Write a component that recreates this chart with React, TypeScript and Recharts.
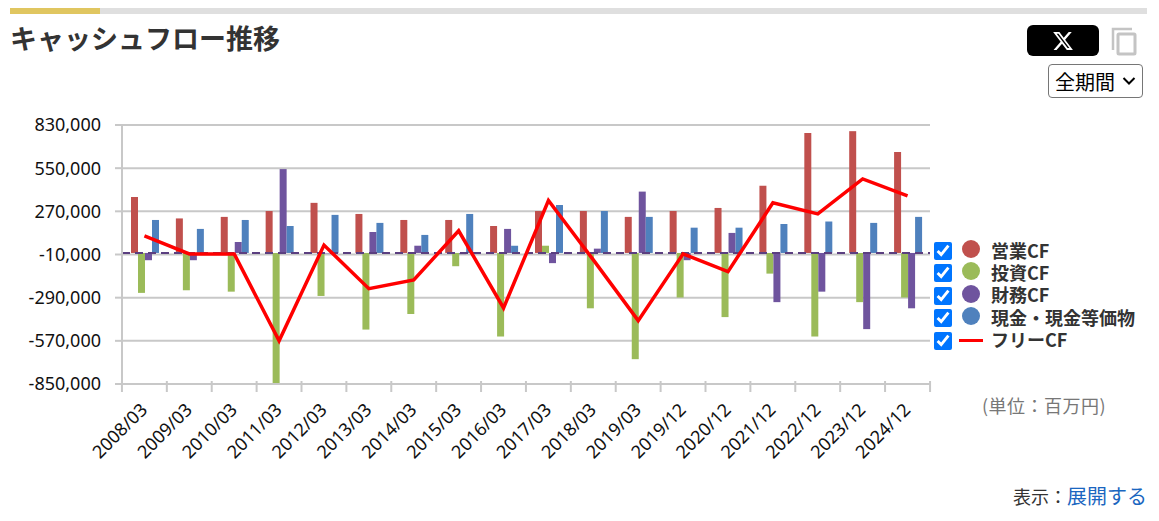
import { Bar, CartesianGrid, ComposedChart, Line, ReferenceLine, XAxis, YAxis } from 'recharts';

const periods = [
  '2008/03', '2009/03', '2010/03', '2011/03', '2012/03', '2013/03', '2014/03', '2015/03', '2016/03',
  '2017/03', '2018/03', '2019/03', '2019/12', '2020/12', '2021/12', '2022/12', '2023/12', '2024/12',
];
const operatingCf = [
  363000, 224000, 234000, 272000, 325000, 253000, 214000, 214000, 175000,
  272000, 272000, 234000, 272000, 292000, 436000, 778000, 790000, 655000,
];
const investingCf = [
  -259000, -242000, -251000, -850000, -279000, -497000, -396000, -86000, -542000,
  47000, -359000, -689000, -289000, -416000, -134000, -542000, -319000, -289000,
];
const financingCf = [
  -47000, -47000, 71000, 544000, -3000, 136000, 47000, -8000, 156000,
  -66000, 28000, 398000, -47000, 130000, -319000, -251000, -494000, -359000,
];
const cashEquivalents = [
  214000, 156000, 214000, 175000, 247000, 195000, 117000, 253000, 47000,
  311000, 272000, 234000, 164000, 164000, 188000, 204000, 195000, 234000,
];
const freeCf = [
  111000, -6000, -6000, -570000, 51000, -232000, -175000, 144000, -357000,
  340000, -45000, -439000, -6000, -121000, 325000, 253000, 480000, 370000,
];
const yTicks = [830000, 550000, 270000, -10000, -290000, -570000, -850000];

const legendItems = [
  { name: '営業CF', color: '#c0504d' },
  { name: '投資CF', color: '#9bbb59' },
  { name: '財務CF', color: '#6f549e' },
  { name: '現金・現金等価物', color: '#4f81bd' },
  { name: 'フリーCF', color: '#ff0000' },
];

const rows = periods.map((period, i) => ({
  period,
  operating: operatingCf[i],
  investing: investingCf[i],
  financing: financingCf[i],
  cash: cashEquivalents[i],
  free: freeCf[i],
}));

const FONT = '"Noto Sans", "Noto Sans CJK JP", sans-serif';
const CJK = '"Noto Sans CJK JP", sans-serif';
const AXIS = '#c8c8c8';
const BAND = 45;

function PeriodTick({ x, y, payload, index }: any) {
  return (
    <g>
      <line x1={x - BAND / 2} x2={x - BAND / 2} y1={y - 11} y2={y} stroke={AXIS} strokeWidth={2} />
      {index === periods.length - 1 && (
        <line x1={x + BAND / 2} x2={x + BAND / 2} y1={y - 11} y2={y} stroke={AXIS} strokeWidth={2} />
      )}
      <text
        x={x + 4}
        y={y + 19}
        textAnchor="end"
        fontSize={18}
        fontFamily={FONT}
        fill="#111"
        transform={`rotate(-45 ${x + 4} ${y + 19})`}
      >
        {payload.value}
      </text>
    </g>
  );
}

export default function App() {
  return (
    <div style={{ position: 'absolute', left: 0, top: 0, width: 1159, height: 521, fontFamily: FONT, background: '#fff', overflow: 'hidden' }}>
      <div style={{ position: 'absolute', left: 10, top: 8, width: 1137, height: 6, background: '#dfdfdf' }} />
      <div style={{ position: 'absolute', left: 10, top: 8, width: 90, height: 6, background: '#e0c660' }} />
      <div style={{ position: 'absolute', left: 10, top: 19, fontSize: 27, lineHeight: '38px', fontWeight: 700, color: '#333', fontFamily: CJK }}>
        キャッシュフロー推移
      </div>

      <div style={{ position: 'absolute', left: 1027, top: 25, width: 72, height: 31, background: '#000', borderRadius: 6, display: 'flex', alignItems: 'center', justifyContent: 'center' }}>
        <svg width={22} height={22} viewBox="0 0 24 24">
          <path fill="#fff" d="M18.244 2.25h3.308l-7.227 8.26 8.502 11.24H16.17l-5.214-6.817L4.99 21.75H1.68l7.73-8.835L1.254 2.25H8.08l4.713 6.231zm-1.161 17.52h1.833L7.084 4.126H5.117z" />
        </svg>
      </div>
      <svg style={{ position: 'absolute', left: 1110, top: 26 }} width={28} height={30}>
        <path d="M3 24V3h19" fill="none" stroke="#c4c4c4" strokeWidth={2.5} />
        <rect x={8} y={8} width={17} height={20} fill="none" stroke="#c4c4c4" strokeWidth={3} rx={1} />
      </svg>
      <select
        defaultValue="all"
        style={{ position: 'absolute', left: 1048, top: 64, width: 95, height: 34, fontSize: 20, fontFamily: CJK, background: '#fff', color: '#000', padding: '0 0 0 6px', boxSizing: 'border-box', appearance: 'none', border: '1px solid #767676', borderRadius: 4 }}
      >
        <option value="all">全期間</option>
      </select>
      <svg style={{ position: 'absolute', left: 1122, top: 76, pointerEvents: 'none' }} width={14} height={10}>
        <path d="M1.5 2l5.5 5.5L12.5 2" fill="none" stroke="#000" strokeWidth={2} />
      </svg>

      <ComposedChart width={1159} height={521} data={rows} margin={{ top: 125, right: 229, bottom: 0, left: 0 }} barCategoryGap="20%" barGap={0}>
        <CartesianGrid vertical={false} stroke={AXIS} strokeWidth={2} />
        <XAxis dataKey="period" interval={0} axisLine={{ stroke: AXIS, strokeWidth: 2 }} tickLine={false} tick={<PeriodTick />} height={137} />
        <YAxis
          type="number"
          width={122}
          domain={[-850000, 830000]}
          ticks={yTicks}
          interval={0}
          axisLine={{ stroke: AXIS, strokeWidth: 2 }}
          tickLine={{ stroke: AXIS, strokeWidth: 2 }}
          tickSize={7}
          tickMargin={14}
          tick={{ fontSize: 18, fontFamily: FONT, fill: '#111' }}
          tickFormatter={(value: number) => value.toLocaleString('en-US')}
        />
        <Bar dataKey="operating" name="営業CF" fill="#c0504d" isAnimationActive={false} />
        <Bar dataKey="investing" name="投資CF" fill="#9bbb59" isAnimationActive={false} />
        <Bar dataKey="financing" name="財務CF" fill="#6f549e" isAnimationActive={false} />
        <Bar dataKey="cash" name="現金・現金等価物" fill="#4f81bd" isAnimationActive={false} />
        <ReferenceLine y={0} stroke="#5b3f80" strokeWidth={2} strokeDasharray="8 5" />
        <Line dataKey="free" name="フリーCF" type="linear" stroke="#ff0000" strokeWidth={3.5} dot={false} isAnimationActive={false} />
      </ComposedChart>

      {legendItems.map((item, i) => {
        const cy = 250.5 + i * 22.4;
        return (
          <div key={item.name}>
            <input
              type="checkbox"
              defaultChecked
              style={{ position: 'absolute', left: 934, top: cy - 8.5, width: 18, height: 18, margin: 0 }}
            />
            {i < 4 ? (
              <div style={{ position: 'absolute', left: 962, top: cy - 10.5, width: 18, height: 18, borderRadius: '50%', background: item.color }} />
            ) : (
              <div style={{ position: 'absolute', left: 959, top: cy - 1.5, width: 24, height: 3, background: item.color }} />
            )}
            <div style={{ position: 'absolute', left: 991, top: cy - 11, fontSize: 18, lineHeight: '20px', fontWeight: 700, color: '#333', whiteSpace: 'nowrap', fontFamily: CJK }}>
              {item.name}
            </div>
          </div>
        );
      })}

      <div style={{ position: 'absolute', left: 982, top: 392, fontSize: 18, letterSpacing: 0.5, lineHeight: '26px', color: '#777', whiteSpace: 'nowrap', fontFamily: CJK }}>
        (単位：百万円)
      </div>
      <div style={{ position: 'absolute', right: 12, top: 482, fontSize: 18, lineHeight: '28px', color: '#333', whiteSpace: 'nowrap', fontFamily: CJK }}>
        表示：<span style={{ fontSize: 20, color: '#1a66c0' }}>展開する</span>
      </div>
    </div>
  );
}
